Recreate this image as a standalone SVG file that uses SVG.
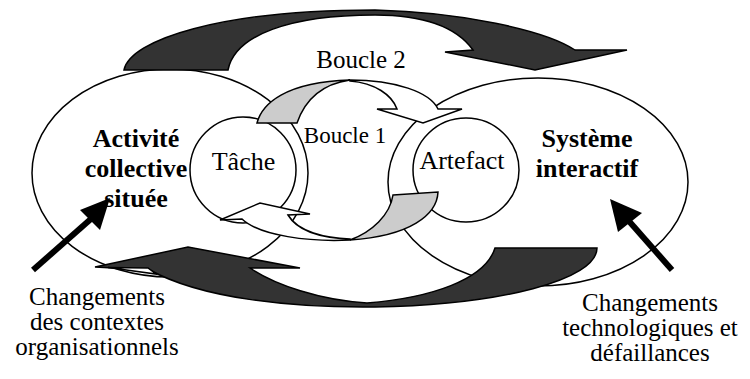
<svg xmlns="http://www.w3.org/2000/svg" width="750" height="379" viewBox="0 0 750 379">
<style>
.ln{fill:#fff;stroke:#000;stroke-width:1.5}
.dark{fill:#333;stroke:#000;stroke-width:1.5;stroke-linejoin:miter}
.gray{fill:#ccc;stroke:#000;stroke-width:1.5}
.wht{fill:#fff;stroke:#000;stroke-width:1.5}
.t{font-family:"Liberation Serif","Times New Roman",serif;font-size:26px;fill:#000;text-anchor:middle}
.s{font-size:25px}
.b{font-weight:bold}
.shaft{stroke:#000;stroke-width:6;fill:none}
</style>
<rect width="750" height="379" fill="#fff"/>
<g id="activite">
<ellipse class="ln" cx="170" cy="173" rx="138" ry="104"/>
<text class="t b" x="136" y="147">Activité</text>
<text class="t b" x="136" y="177">collective</text>
<text class="t b" x="136" y="207">située</text>
</g>
<g id="systeme">
<ellipse class="ln" cx="538" cy="182" rx="150" ry="104"/>
<text class="t b" x="587" y="147">Système</text>
<text class="t b" x="587" y="177">interactif</text>
</g>
<g id="tache">
<circle class="ln" cx="243" cy="170" r="53"/>
<text class="t" x="243.5" y="170">Tâche</text>
</g>
<g id="artefact">
<ellipse class="ln" cx="466" cy="170" rx="53" ry="52"/>
<text class="t" x="462" y="169">Artefact</text>
</g>
<g id="connectors">
<path class="dark" d="M124,70 C130,40 220,10 375,10 C460,12 545,30 575,50 L627,50 L535,70 L445,52 L473,50 C455,25 420,15 375,15 C290,15 235,35 228,70 Z"/>
<path class="dark" d="M495,248 L597,248 C597,280 500,305 375,307 C290,308 200,298 150,270 L95,267 L188,247 L300,268 L250,268 C275,285 320,300 367,303 C430,298 485,280 495,248 Z"/>
<path class="wht" d="M108,267.5 L148,268 L156,274 Z"/>
<path class="gray" d="M257,123 C262,104 285,82 350,80 C322,84 305,100 297,123 Z"/>
<path class="wht" d="M350,80 C395,80 430,92 438,109 L462,109 L423,123 L377,109 L397,109 C392,95 375,83 350,81 Z"/>
<path class="gray" d="M393,195 L438,192 C437,215 410,236 350,240 C372,232 390,215 393,195 Z"/>
<path class="wht" d="M350,240 C310,242 260,236 242,219 L220,220 L260,203 L310,214 L288,215 C298,232 325,238 350,239 Z"/>
<line class="shaft" x1="33" y1="270" x2="92" y2="218"/>
<polygon points="110,198 80,210 100,230" fill="#000"/>
<line class="shaft" x1="672" y1="270" x2="628" y2="220"/>
<polygon points="610,199 642,213 618,232" fill="#000"/>
</g>
<g id="labels">
<text class="t" x="361" y="68" style="font-size:25px">Boucle 2</text>
<text class="t" x="345" y="143" style="font-size:23px">Boucle 1</text>
<text class="t s" x="97" y="305">Changements</text>
<text class="t s" x="97" y="330">des contextes</text>
<text class="t s" x="97" y="355">organisationnels</text>
<text class="t s" x="650" y="311">Changements</text>
<text class="t s" x="650" y="336">technologiques et</text>
<text class="t s" x="650" y="361">défaillances</text>
</g>
</svg>
